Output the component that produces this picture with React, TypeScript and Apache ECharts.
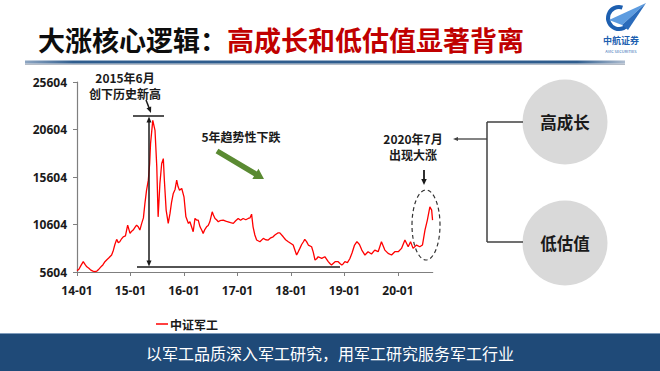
import React, { useEffect, useRef } from "react";
import * as echarts from "echarts";

const seriesName = "中证军工";

// [MM-DD, index value], per year
const pts2014: [string, number][] = [
  ["01-01", 5750], ["01-14", 5900], ["01-28", 6300], ["02-13", 6690], ["02-25", 6400],
  ["03-07", 6150], ["03-21", 6000], ["04-04", 5800], ["04-18", 5700], ["05-01", 5640],
  ["05-15", 5700], ["05-28", 5900], ["06-12", 6150], ["06-25", 6350], ["07-09", 6690],
  ["07-22", 6900], ["08-06", 7100], ["08-24", 7390], ["09-06", 7900], ["09-16", 8500],
  ["09-28", 9040], ["10-09", 8700], ["10-19", 8790], ["11-01", 9100], ["11-12", 9310],
  ["11-27", 9400], ["12-12", 10540], ["12-28", 9670],
];
const pts2015: [string, number][] = [
  ["01-09", 9900], ["01-19", 10020], ["02-01", 10300], ["02-12", 10540], ["02-23", 10360],
  ["03-04", 10020], ["03-16", 10700], ["03-28", 11300], ["04-08", 12800], ["04-19", 14200],
  ["05-01", 15270], ["05-10", 17000], ["05-16", 19120], ["06-01", 21570], ["06-16", 20520],
  ["06-28", 16670], ["07-07", 11410], ["07-19", 14920], ["08-01", 17020], ["08-12", 17540],
  ["08-19", 15270], ["08-31", 12120], ["09-15", 10720], ["09-27", 11770], ["10-07", 12900],
  ["10-19", 13870], ["10-31", 14300], ["11-12", 15270], ["11-21", 14600], ["12-01", 14220],
  ["12-16", 14390],
];
const pts2016: [string, number][] = [
  ["01-01", 13520], ["01-14", 11410], ["02-01", 10720], ["02-11", 10890], ["02-22", 10360],
  ["03-03", 9840], ["03-15", 11240], ["03-26", 11070], ["04-07", 11070], ["04-19", 10360],
  ["05-01", 10000], ["05-10", 9670], ["05-22", 10100], ["06-03", 10360], ["06-14", 10500],
  ["06-25", 10890], ["07-11", 11940], ["07-19", 11600], ["07-30", 11240], ["08-10", 11100],
  ["08-22", 10890], ["09-03", 11000], ["09-25", 11070], ["10-12", 10950], ["10-28", 10890],
  ["11-15", 10800], ["12-03", 10720], ["12-19", 11000],
];
const pts2017: [string, number][] = [
  ["01-06", 11240], ["01-22", 11050], ["02-09", 11240], ["02-27", 11100], ["03-13", 11240],
  ["03-25", 11300], ["04-06", 11690], ["04-16", 10360], ["04-28", 9500], ["05-10", 8970],
  ["06-02", 8790], ["06-25", 9140], ["07-11", 9000], ["07-28", 8970], ["08-15", 9200],
  ["09-01", 9310], ["09-13", 9490], ["10-05", 9730], ["10-16", 9730], ["11-09", 9310],
  ["11-25", 9000], ["12-13", 8790],
];
const pts2018: [string, number][] = [
  ["01-01", 8600], ["01-16", 8440], ["01-28", 7900], ["02-09", 7390], ["02-19", 7700],
  ["03-01", 8090], ["03-13", 8500], ["03-25", 8790], ["04-04", 9040], ["04-16", 8800],
  ["04-28", 8440], ["05-20", 8260], ["06-01", 7700], ["06-13", 6860], ["06-24", 7000],
  ["07-04", 7210], ["07-28", 7040], ["08-19", 7210], ["09-12", 6690], ["09-23", 6500],
  ["10-04", 6340], ["10-28", 6690], ["11-19", 6690], ["12-01", 6500], ["12-13", 6340],
  ["12-22", 6450],
];
const pts2019: [string, number][] = [
  ["01-04", 6690], ["01-21", 6600], ["02-07", 7000], ["02-22", 7600], ["03-08", 8400],
  ["03-25", 8800], ["04-12", 8500], ["04-28", 7910], ["05-19", 7390], ["06-10", 7740],
  ["07-03", 7500], ["07-25", 7910], ["08-18", 7740], ["09-10", 8790], ["10-03", 7910],
  ["10-25", 7560], ["11-18", 7390], ["12-10", 7740],
];
const pts2020: [string, number][] = [
  ["01-03", 7740], ["01-25", 8090], ["02-18", 8970], ["03-10", 8260], ["03-26", 8790],
  ["04-13", 8090], ["05-06", 8440], ["05-28", 8260], ["06-16", 8440], ["07-03", 10020],
  ["07-19", 11070], ["08-06", 12460], ["08-18", 12120], ["08-24", 11070],
];

const yTicks = [5604, 10604, 15604, 20604, 25604];
const xTickLabels = ["14-01", "15-01", "16-01", "17-01", "18-01", "19-01", "20-01"];
const yMin = 5604;
const yMax = 25604;
const xEnd = 79.8; // months after 2014-01

const titleBlack = "大涨核心逻辑：";
const titleRed = "高成长和低估值显著背离";
const slogan = "以军工品质深入军工研究，用军工研究服务军工行业";

function monthIndex(year: number, md: string) {
  const [m, d] = md.split("-").map(Number);
  return (year - 2014) * 12 + (m - 1) + (d - 1) / 30;
}

const yearSets: [number, [string, number][]][] = [
  [2014, pts2014], [2015, pts2015], [2016, pts2016], [2017, pts2017],
  [2018, pts2018], [2019, pts2019], [2020, pts2020],
];
const lineData = yearSets.flatMap(([yr, pts]) => pts.map(([md, v]) => [monthIndex(yr, md), v]));
const xTicks = xTickLabels.map((_, i) => i * 12);

const CJK = '"Noto Sans CJK SC", "Noto Sans", sans-serif';

function arrowHead(x1: number, y1: number, x2: number, y2: number, len: number, w: number, color: string) {
  const a = Math.atan2(y2 - y1, x2 - x1);
  const bx = x2 - len * Math.cos(a);
  const by = y2 - len * Math.sin(a);
  const nx = (-Math.sin(a) * w) / 2;
  const ny = (Math.cos(a) * w) / 2;
  return {
    type: "polygon",
    z: 100,
    shape: { points: [[x2, y2], [bx + nx, by + ny], [bx - nx, by - ny]] },
    style: { fill: color },
  };
}

function arrowLine(x1: number, y1: number, x2: number, y2: number, color: string, lw: number, len: number, w: number) {
  const a = Math.atan2(y2 - y1, x2 - x1);
  const ex = x2 - len * 0.7 * Math.cos(a);
  const ey = y2 - len * 0.7 * Math.sin(a);
  return [
    { type: "line", z: 100, shape: { x1, y1, x2: ex, y2: ey }, style: { stroke: color, lineWidth: lw } },
    arrowHead(x1, y1, x2, y2, len, w, color),
  ];
}

function fatArrow(x1: number, y1: number, x2: number, y2: number, bw: number, hw: number, hl: number, color: string) {
  const a = Math.atan2(y2 - y1, x2 - x1);
  const L = Math.hypot(x2 - x1, y2 - y1);
  const c = Math.cos(a);
  const s = Math.sin(a);
  const local = [
    [0, -bw / 2], [L - hl, -bw / 2], [L - hl, -hw / 2], [L, 0],
    [L - hl, hw / 2], [L - hl, bw / 2], [0, bw / 2],
  ];
  return {
    type: "polygon",
    z: 100,
    shape: { points: local.map(([px, py]) => [x1 + px * c - py * s, y1 + px * s + py * c]) },
    style: { fill: color },
  };
}

function label(text: string, x: number, y: number, size: number, color = "#1a1a1a", weight: any = "bold") {
  return {
    type: "text",
    z: 100,
    x,
    y,
    style: { text, fill: color, font: `${weight} ${size}px ${CJK}`, align: "center", verticalAlign: "middle" },
  };
}

export default function App() {
  const ref = useRef<HTMLDivElement>(null);

  useEffect(() => {
    if (!ref.current) return;
    const chart = echarts.init(ref.current, undefined, { renderer: "svg" });

    const black = "#1a1a1a";
    const bracket = "#404040";

    const graphics: any[] = [
      // title
      {
        type: "text",
        z: 100,
        x: 38,
        y: 39,
        style: {
          text: `{a|${titleBlack}}{b|${titleRed}}`,
          verticalAlign: "middle",
          rich: {
            a: { fill: "#0d0d0d", fontSize: 27, fontWeight: "bold", fontFamily: CJK },
            b: { fill: "#c00000", fontSize: 27, fontWeight: "bold", fontFamily: CJK },
          },
        },
      },
      // underline
      { type: "rect", z: 90, shape: { x: 25, y: 63.5, width: 600, height: 1.5 }, style: { fill: "#b5bcc6" } },
      {
        type: "rect",
        z: 91,
        shape: { x: 25, y: 60.5, width: 600, height: 3 },
        style: {
          fill: new echarts.graphic.LinearGradient(0, 0, 1, 0, [
            { offset: 0, color: "#8ea6c2" },
            { offset: 0.08, color: "#2f5d8e" },
            { offset: 0.92, color: "#2f5d8e" },
            { offset: 1, color: "#aebdd0" },
          ]),
        },
      },
      // logo
      {
        type: "arc",
        z: 100,
        shape: { cx: 619, cy: 18, r: 11, startAngle: Math.PI * 0.12, endAngle: Math.PI * 1.6, clockwise: true },
        style: { stroke: "#1d5fb0", lineWidth: 4, fill: null },
      },
      { type: "polygon", z: 101, shape: { points: [[609, 20], [646, 3], [622, 25]] }, style: { fill: "#5d9ce0" } },
      { type: "polygon", z: 101, shape: { points: [[622, 25], [646, 3], [628, 30]] }, style: { fill: "#2a6bbb" } },
      label("中航证券", 621, 40, 9, "#1d5fb0"),
      label("AVIC SECURITIES", 621, 50.5, 4, "#1d5fb0", "normal"),

      // 2015 peak annotation
      label("2015年6月", 125, 77, 12, black),
      label("创下历史新高", 125, 93, 12, black),
      ...arrowLine(146, 100, 151, 113, black, 1.5, 6, 5),
      { type: "line", z: 100, shape: { x1: 133, y1: 116, x2: 164, y2: 116 }, style: { stroke: black, lineWidth: 1.5 } },
      { type: "line", z: 100, shape: { x1: 149, y1: 120, x2: 149, y2: 263 }, style: { stroke: black, lineWidth: 1.5 } },
      arrowHead(149, 140, 149, 116.5, 6, 5, black),
      arrowHead(149, 240, 149, 266.5, 6, 5, black),
      { type: "line", z: 100, shape: { x1: 137, y1: 267, x2: 340, y2: 267 }, style: { stroke: black, lineWidth: 1.5 } },

      // downtrend
      label("5年趋势性下跌", 241, 136, 12, black),
      fatArrow(217, 151, 264, 179, 5.5, 12, 10, "#5a8a32"),

      // 2020 annotation
      label("2020年7月", 413, 138, 12, black),
      label("出现大涨", 413, 154, 12, black),
      ...arrowLine(424, 170, 424, 185, black, 1.8, 6, 5.5),
      {
        type: "ellipse",
        z: 100,
        shape: { cx: 426, cy: 225, rx: 14, ry: 35 },
        style: { fill: null, stroke: "#333333", lineWidth: 1.2, lineDash: [4, 3] },
      },

      // bracket
      { type: "line", z: 100, shape: { x1: 487, y1: 122, x2: 487, y2: 242 }, style: { stroke: bracket, lineWidth: 1.5 } },
      { type: "line", z: 100, shape: { x1: 487, y1: 122, x2: 523, y2: 122 }, style: { stroke: bracket, lineWidth: 1.5 } },
      { type: "line", z: 100, shape: { x1: 487, y1: 242, x2: 523, y2: 242 }, style: { stroke: bracket, lineWidth: 1.5 } },
      ...arrowLine(487, 139, 453, 139, bracket, 1.3, 5, 4),

      // circles
      { type: "circle", z: 95, shape: { cx: 565, cy: 122, r: 42.5 }, style: { fill: "#d9d9d9" } },
      { type: "circle", z: 95, shape: { cx: 565, cy: 243, r: 42.5 }, style: { fill: "#d9d9d9" } },
      label("高成长", 565, 122, 16.5, black),
      label("低估值", 565, 243, 16.5, black),

      // banner
      { type: "rect", z: 90, shape: { x: 0, y: 333, width: 660, height: 38 }, style: { fill: "#1f4a78" } },
      { type: "rect", z: 91, shape: { x: 0, y: 333, width: 660, height: 1 }, style: { fill: "#7f9cbc" } },
      label(slogan, 330, 353, 16, "#ffffff", "normal"),
    ];

    chart.setOption({
      animation: false,
      backgroundColor: "#ffffff",
      textStyle: { fontFamily: CJK },
      grid: { left: 77, top: 82, width: 355.7, height: 190, outerBoundsMode: "none" },
      legend: {
        data: [seriesName],
        left: 151,
        top: 313,
        icon: "rect",
        itemWidth: 12,
        itemHeight: 1.5,
        itemGap: 4,
        textStyle: { fontSize: 12, fontWeight: "bold", color: "#1a1a1a", fontFamily: CJK, padding: [0, 0, 0, -3] },
      },
      xAxis: {
        type: "value",
        min: 0,
        max: xEnd,
        splitLine: { show: false },
        axisLine: { show: true, lineStyle: { color: "#7f7f7f", width: 1.2 } },
        axisTick: { show: true, length: 4, lineStyle: { color: "#7f7f7f" }, customValues: xTicks },
        axisLabel: {
          customValues: xTicks,
          formatter: (v: number) => xTickLabels[Math.round(v / 12)] ?? "",
          color: "#1a1a1a",
          fontWeight: "bold",
          fontSize: 12,
          fontFamily: '"Open Sans", sans-serif',
          margin: 12,
        },
      },
      yAxis: {
        type: "value",
        min: yMin,
        max: yMax,
        splitLine: { show: false },
        axisLine: { show: true, lineStyle: { color: "#7f7f7f", width: 1.2 } },
        axisTick: { show: true, length: 4, lineStyle: { color: "#7f7f7f" }, customValues: yTicks },
        axisLabel: {
          customValues: yTicks,
          formatter: (v: number) => String(v),
          color: "#1a1a1a",
          fontWeight: "bold",
          fontSize: 12,
          fontFamily: '"Open Sans", sans-serif',
          margin: 10,
        },
      },
      series: [
        {
          name: seriesName,
          type: "line",
          data: lineData,
          showSymbol: false,
          symbol: "none",
          lineStyle: { color: "#ff0000", width: 1.3 },
          itemStyle: { color: "#ff0000" },
          z: 5,
        },
      ],
      graphic: graphics,
    });

    return () => chart.dispose();
  }, []);

  return <div ref={ref} style={{ position: "absolute", left: 0, top: 0, width: 660, height: 371 }} />;
}
